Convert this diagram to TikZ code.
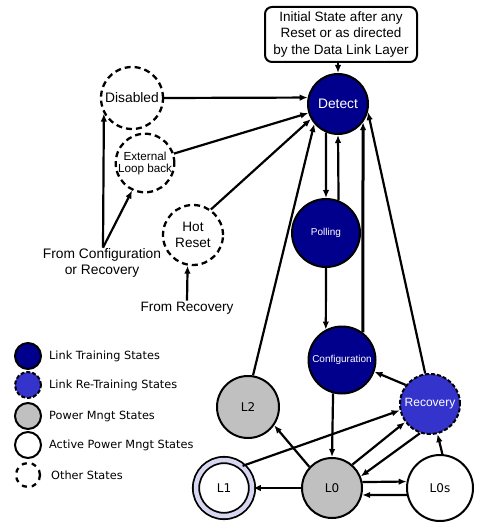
\documentclass[tikz,border=0pt]{standalone}
\usepackage{fontspec}
\setmainfont{Liberation Sans}
\newfontfamily\legfont{DejaVu Sans}
\usetikzlibrary{arrows.meta}
\definecolor{dkblue}{RGB}{0,0,140}
\definecolor{rblue}{RGB}{52,52,204}
\definecolor{pgray}{RGB}{192,192,192}
\definecolor{lav}{RGB}{214,214,240}
\begin{document}
\begin{tikzpicture}[x=1pt,y=-1pt,
  st/.style={circle, draw, line width=2pt, inner sep=0pt, align=center},
  train/.style={st, fill=dkblue, text=white},
  retrain/.style={st, fill=rblue, text=white, dash pattern=on 4pt off 2pt},
  pm/.style={st, fill=pgray},
  apm/.style={st, fill=white},
  other/.style={st, fill=white, line width=2.3pt, dash pattern=on 6pt off 4pt},
  arr/.style={-{Latex[length=8pt,width=6.5pt]}, line width=2.2pt},
  lbl/.style={align=center, inner sep=1pt},
  legtxt/.style={anchor=west, inner sep=0pt, font=\legfont\fontsize{11.3}{13}\selectfont},
  lfont/.style={font=\legfont\fontsize{12}{14}\selectfont},
]
\useasboundingbox (0,0) rectangle (478,526);

% top box
\node[draw, line width=2pt, rounded corners=7pt, minimum width=152pt, minimum height=55pt,
      align=center, inner sep=0pt, font=\fontsize{13.5}{16.5}\selectfont] (box) at (341,34.5)
  {Initial State after any\\Reset or as directed\\by the Data Link Layer};

% states
\node[train, minimum size=60pt, font=\fontsize{13.8}{16}\selectfont] (det) at (338,104) {Detect};
\node[train, minimum size=68pt, font=\fontsize{10}{12}\selectfont] (pol) at (326,233) {Polling};
\node[train, minimum size=67pt, font=\fontsize{10}{12}\selectfont] (cfg) at (342,360) {Configuration};
\node[retrain, minimum size=60pt, font=\fontsize{12}{14}\selectfont] (rec) at (430,404) {Recovery};
\node[pm, minimum size=62pt, lfont] (l2) at (248,407) {L2};
\node[pm, minimum size=60pt, lfont] (l0) at (332,488) {L0};
\node[apm, minimum size=56pt, lfont, double=lav, double distance=4.5pt, line width=1.8pt] (l1) at (224,488) {L1};
\node[apm, minimum size=66pt, lfont] (l0s) at (440,488) {L0s};

\node[other, minimum size=62pt, font=\fontsize{13.8}{16}\selectfont] (dis) at (132,98) {Disabled};
\node[other, minimum size=58pt, font=\fontsize{11.7}{14}\selectfont] (ext) at (145,163) {External\\[-2pt]Loop back};
\node[other, minimum size=60pt, font=\fontsize{13.6}{15.5}\selectfont] (hot) at (193,235) {Hot\\Reset};

\node[lbl, font=\fontsize{13.8}{15.5}\selectfont] (fcr) at (102,263) {From Configuration\\or Recovery};
\node[lbl, font=\fontsize{13.6}{15.5}\selectfont] (fr) at (187,308) {From Recovery};

% connectors
\draw[arr] (det.north |- box.south) -- (det.north);
\draw[arr] (dis.east) -- (det.168.5);
\draw[arr] (ext.18.4) -- (det.197.2);
\draw[arr] (hot.55.8) -- (det.209.2);
\draw[arr] (fcr.north) ++(1,0) coordinate (fc0) -- (dis.209);
\draw[arr] (fc0) -- (ext.-115.8);
\draw[arr] (fr.north) -- (hot.-100);
\draw[arr] (l2.81) -- (det.220);
\draw[arr] (det.-113.6) -- (pol.north);
\draw[arr] (pol.69.3) -- (det.south);
\draw[arr] (pol.south) -- (cfg.118.5);
\draw[arr, line width=3pt] (cfg.53.3) -- (det.-36.9);
\draw[arr] (rec.99.8) -- (det.-15.4);
\draw[arr] (rec.142.8) -- (cfg.-20);
\draw[arr] (cfg.-105.6) -- (l0.north);
\draw[arr] (l0.137.7) -- (l2.-35.8);
\draw[arr] (l0.west) -- (l1.east);
\draw[arr] (l1.50) -- (rec.192.3);
\draw[arr] (l0.49) -- (rec.216);
\draw[arr] (rec.-109) -- (l0.22.8);
\draw[arr] (l0.11.5) -- (l0s.169.5);
\draw[arr] (l0s.192.2) -- (l0.-13.5);
\draw[arr] (l0s.86.3) -- (rec.-76.9);

% legend
\node[train, minimum size=26pt] (k1) at (28,356) {};
\node[retrain, minimum size=26pt] (k2) at (28,385) {};
\node[pm, minimum size=26pt] (k3) at (28,416) {};
\node[apm, minimum size=26pt] (k4) at (28,445) {};
\node[other, minimum size=24pt, dash pattern=on 5pt off 5pt] (k5) at (28,475) {};
\node[legtxt] (t1) at (49,356) {Link Training States};
\node[legtxt] (t2) at (49,385) {Link Re-Training States};
\node[legtxt] (t3) at (49,416) {Power Mngt States};
\node[legtxt] (t4) at (49,445) {Active Power Mngt States};
\node[legtxt] (t5) at (51,475) {Other States};
\end{tikzpicture}
\end{document}
